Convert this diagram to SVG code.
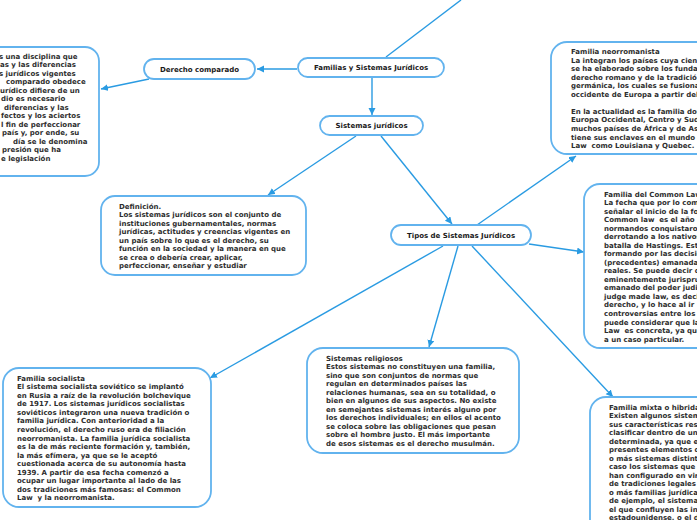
<svg xmlns="http://www.w3.org/2000/svg" width="697" height="520" viewBox="0 0 697 520">
<style>
.bg{fill:#ffffff}
.node{fill:#ffffff;stroke:#62b3ee;stroke-width:1.8}
.lbl{font-family:"DejaVu Sans",Verdana,sans-serif;font-weight:bold;font-size:7px;fill:#1a1a1a;text-anchor:middle}
.txt{font-family:"DejaVu Sans",Verdana,sans-serif;font-weight:bold;font-size:7px;fill:#2e2e2e}
.con{stroke:#2a9be2;stroke-width:1.4;fill:none}
.arr{marker-end:url(#ah)}
</style>
<defs>
<marker id="ah" markerUnits="userSpaceOnUse" markerWidth="10" markerHeight="10" refX="7" refY="3.5" orient="auto">
<path d="M0,0 L7,3.5 L0,7 Z" fill="#2a9be2"/>
</marker>
</defs>
<rect class="bg" x="0" y="0" width="697" height="520"/>

<g id="connectors">
<line class="con" x1="386" y1="57" x2="461" y2="0"/>
<line class="con arr" x1="297" y1="69" x2="257" y2="69"/>
<line class="con arr" x1="149" y1="79" x2="101" y2="89"/>
<line class="con arr" x1="372" y1="77" x2="372" y2="115"/>
<line class="con arr" x1="356" y1="136" x2="268" y2="195"/>
<line class="con arr" x1="381" y1="136" x2="452" y2="224"/>
<line class="con arr" x1="477" y1="225" x2="576" y2="156"/>
<line class="con arr" x1="529" y1="244" x2="584" y2="252"/>
<line class="con arr" x1="443" y1="246" x2="210" y2="378"/>
<line class="con arr" x1="458" y1="246" x2="429" y2="347"/>
<line class="con arr" x1="472" y1="246" x2="613" y2="397"/>
</g>

<g id="familias">
<rect class="node" x="298" y="58" width="146" height="19" rx="9.5"/>
<text class="lbl" x="371" y="70">Familias y Sistemas Jurídicos</text>
</g>

<g id="derecho-comparado">
<rect class="node" x="144" y="59" width="111" height="20" rx="10"/>
<text class="lbl" x="199.5" y="71.5">Derecho comparado</text>
</g>

<g id="sistemas-juridicos">
<rect class="node" x="320" y="116" width="103" height="19" rx="9.5"/>
<text class="lbl" x="371.5" y="128">Sistemas jurídicos</text>
</g>

<g id="tipos">
<rect class="node" x="391" y="225" width="140" height="20" rx="10"/>
<text class="lbl" x="461" y="237.5">Tipos de Sistemas Jurídicos</text>
</g>

<g id="derecho-comparado-texto">
<rect class="node" x="-120" y="47" width="219" height="129" rx="14"/>
<text class="txt">
<tspan x="-1" y="58.5">s una disciplina que</tspan>
<tspan x="0" y="67.2">as y las diferencias</tspan>
<tspan x="-1" y="75.5">s jurídicos vigentes</tspan>
<tspan x="6" y="84.2">comparado obedece</tspan>
<tspan x="0" y="92.5">urídico difiere de un</tspan>
<tspan x="1" y="101.2">dio es necesario</tspan>
<tspan x="4" y="109.5">diferencias y las</tspan>
<tspan x="1" y="118.2">fectos y los aciertos</tspan>
<tspan x="1" y="126.5">l fin de perfeccionar</tspan>
<tspan x="2" y="135.2">país y, por ende, su</tspan>
<tspan x="13" y="143.5">día se le denomina</tspan>
<tspan x="2" y="152.2">presión que ha</tspan>
<tspan x="1" y="160.5">e legislación</tspan>
</text>
</g>

<g id="definicion">
<rect class="node" x="101" y="196" width="205" height="79" rx="14"/>
<text class="txt">
<tspan x="119" y="208.5">Definición.</tspan>
<tspan x="119" y="217.1">Los sistemas jurídicos son el conjunto de</tspan>
<tspan x="119" y="225.6">instituciones gubernamentales, normas</tspan>
<tspan x="119" y="234.2">jurídicas, actitudes y creencias vigentes en</tspan>
<tspan x="119" y="242.7">un país sobre lo que es el derecho, su</tspan>
<tspan x="119" y="251.3">función en la sociedad y la manera en que</tspan>
<tspan x="119" y="259.8">se crea o debería crear, aplicar,</tspan>
<tspan x="119" y="268.4">perfeccionar, enseñar y estudiar</tspan>
</text>
</g>

<g id="neorromanista">
<rect class="node" x="551" y="42" width="220" height="112" rx="16"/>
<text class="txt">
<tspan x="571" y="54">Familia neorromanista</tspan>
<tspan x="571" y="62.6">La integran los países cuya ciencia</tspan>
<tspan x="571" y="71.1">se ha elaborado sobre los fundamentos</tspan>
<tspan x="571" y="79.7">derecho romano y de la tradición</tspan>
<tspan x="571" y="88.2">germánica, los cuales se fusionaron</tspan>
<tspan x="571" y="96.8">occidente de Europa a partir del</tspan>
<tspan x="571" y="113.9">En la actualidad es la familia dominante</tspan>
<tspan x="571" y="122.4">Europa Occidental, Centro y Sudamérica</tspan>
<tspan x="571" y="131">muchos países de África y de Asia</tspan>
<tspan x="571" y="139.5">tiene sus enclaves en el mundo</tspan>
<tspan x="571" y="148.1">Law&#160; como Louisiana y Quebec.</tspan>
</text>
</g>

<g id="common-law">
<rect class="node" x="584" y="184" width="220" height="164" rx="16"/>
<text class="txt">
<tspan x="604" y="196.5">Familia del Common Law</tspan>
<tspan x="604" y="205">La fecha que por lo común</tspan>
<tspan x="604" y="213.6">señalar el inicio de la formación</tspan>
<tspan x="604" y="222.1">Common law&#160; es el año</tspan>
<tspan x="604" y="230.6">normandos conquistaron</tspan>
<tspan x="604" y="239.2">derrotando a los nativos</tspan>
<tspan x="604" y="247.7">batalla de Hastings. Este</tspan>
<tspan x="604" y="256.2">formando por las decisiones</tspan>
<tspan x="604" y="264.7">(precedentes) emanadas</tspan>
<tspan x="604" y="273.3">reales. Se puede decir que</tspan>
<tspan x="604" y="281.8">eminentemente jurisprudencial</tspan>
<tspan x="604" y="290.3">emanado del poder judicial</tspan>
<tspan x="604" y="298.9">judge made law, es decir</tspan>
<tspan x="604" y="307.4">derecho, y lo hace al ir</tspan>
<tspan x="604" y="315.9">controversias entre los</tspan>
<tspan x="604" y="324.5">puede considerar que la</tspan>
<tspan x="604" y="333">Law&#160; es concreta, ya que</tspan>
<tspan x="604" y="341.5">a un caso particular.</tspan>
</text>
</g>

<g id="socialista">
<rect class="node" x="3" y="368" width="208" height="139" rx="16"/>
<text class="txt">
<tspan x="17" y="380.5">Familia socialista</tspan>
<tspan x="17" y="389.1">El sistema socialista soviético se implantó</tspan>
<tspan x="17" y="397.6">en Rusia a raíz de la revolución bolchevique</tspan>
<tspan x="17" y="406.2">de 1917. Los sistemas jurídicos socialistas</tspan>
<tspan x="17" y="414.8">soviéticos integraron una nueva tradición o</tspan>
<tspan x="17" y="423.3">familia jurídica. Con anterioridad a la</tspan>
<tspan x="17" y="431.9">revolución, el derecho ruso era de filiación</tspan>
<tspan x="17" y="440.5">neorromanista. La familia jurídica socialista</tspan>
<tspan x="17" y="449">es la de más reciente formación y, también,</tspan>
<tspan x="17" y="457.6">la más efímera, ya que se le aceptó</tspan>
<tspan x="17" y="466.2">cuestionada acerca de su autonomía hasta</tspan>
<tspan x="17" y="474.7">1939. A partir de esa fecha comenzó a</tspan>
<tspan x="17" y="483.3">ocupar un lugar importante al lado de las</tspan>
<tspan x="17" y="491.9">dos tradiciones más famosas: el Common</tspan>
<tspan x="17" y="500.4">Law&#160; y la neorromanista.</tspan>
</text>
</g>

<g id="religiosos">
<rect class="node" x="307" y="348" width="212" height="105" rx="16"/>
<text class="txt">
<tspan x="326" y="360.5">Sistemas religiosos</tspan>
<tspan x="326" y="369">Estos sistemas no constituyen una familia,</tspan>
<tspan x="326" y="377.5">sino que son conjuntos de normas que</tspan>
<tspan x="326" y="386">regulan en determinados países las</tspan>
<tspan x="326" y="394.5">relaciones humanas, sea en su totalidad, o</tspan>
<tspan x="326" y="403">bien en algunos de sus aspectos. No existe</tspan>
<tspan x="326" y="411.5">en semejantes sistemas interés alguno por</tspan>
<tspan x="326" y="420">los derechos individuales; en ellos el acento</tspan>
<tspan x="326" y="428.5">se coloca sobre las obligaciones que pesan</tspan>
<tspan x="326" y="437">sobre el hombre justo. El más importante</tspan>
<tspan x="326" y="445.5">de esos sistemas es el derecho musulmán.</tspan>
</text>
</g>

<g id="mixta">
<rect class="node" x="590" y="397" width="220" height="200" rx="16"/>
<text class="txt">
<tspan x="609" y="409.5">Familia mixta o hibrida</tspan>
<tspan x="609" y="418">Existen algunos sistemas</tspan>
<tspan x="609" y="426.6">sus características respecto</tspan>
<tspan x="609" y="435.1">clasificar dentro de una</tspan>
<tspan x="609" y="443.6">determinada, ya que en</tspan>
<tspan x="609" y="452.2">presentes elementos que</tspan>
<tspan x="609" y="460.7">o más sistemas distintos</tspan>
<tspan x="609" y="469.2">caso los sistemas que</tspan>
<tspan x="609" y="477.8">han configurado en virtud</tspan>
<tspan x="609" y="486.3">de tradiciones legales</tspan>
<tspan x="609" y="494.8">o más familias jurídicas</tspan>
<tspan x="609" y="503.4">de ejemplo, el sistema</tspan>
<tspan x="609" y="511.9">el que confluyen las influencias</tspan>
<tspan x="609" y="520.4">estadounidense, o el de</tspan>
</text>
</g>
</svg>
